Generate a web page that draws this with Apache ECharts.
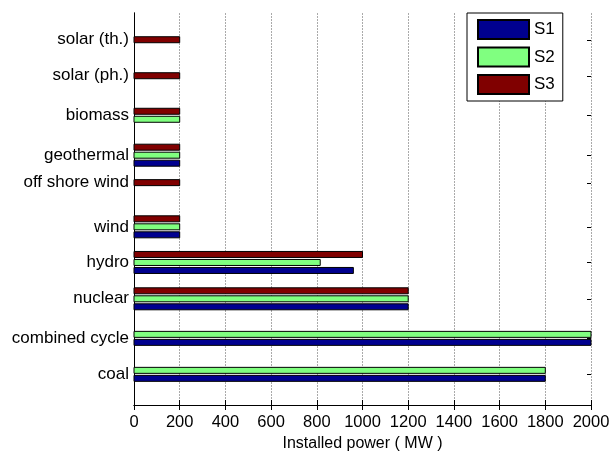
<!DOCTYPE html>
<html>
<head>
    <meta charset="utf-8">
    <title>Installed power</title>
    <script src="https://cdn.jsdelivr.net/npm/echarts@6/dist/echarts.min.js"></script>
    <style>
        html, body { margin: 0; padding: 0; background: #fff; }
        #main { width: 613px; height: 453px; }
    </style>
</head>
<body>
<div id="main"></div>
<script type="text/javascript">
    // categories, bottom to top, and where they sit on the y scale
    var categories = ['coal', 'combined cycle', 'nuclear', 'hydro', 'wind',
        'off shore wind', 'geothermal', 'biomass', 'solar (ph.)', 'solar (th.)'];
    var positions = [0.86, 1.87, 2.98, 4.0, 5.0, 6.24, 7.01, 8.13, 9.24, 10.25];

    var seriesNames = ['S1', 'S2', 'S3'];
    var s1 = [1800, 2000, 1200, 960, 200, 0, 200, 0, 0, 0];
    var s2 = [1800, 2000, 1200, 815, 200, 0, 200, 200, 0, 0];
    var s3 = [0, 0, 1200, 1000, 200, 200, 200, 200, 200, 200];
    var values = [s1, s2, s3];
    var colors = ['#00008f', '#80ff80', '#800000'];

    var FONT = 'Liberation Sans, Arial, Helvetica, sans-serif';
    var PITCH = 8;   // px between bars of one group
    var BAR = 6;     // bar thickness in px
    var XMAX = 2000;

    function makeSeries(si) {
        return {
            name: seriesNames[si],
            type: 'custom',
            z: 3,
            itemStyle: { color: colors[si], borderColor: '#000', borderWidth: 1 },
            encode: { x: 1, y: 0 },
            data: categories.map(function (c, i) { return [positions[i], values[si][i], i]; }),
            renderItem: function (params, api) {
                var i = api.value(2);
                var v = api.value(1);
                if (!v) return;
                // only non-zero bars are stacked around the category position
                var active = [];
                for (var k = 0; k < 3; k++) if (values[k][i]) active.push(k);
                var idx = active.indexOf(si);
                var off = (idx - (active.length - 1) / 2) * PITCH;
                var p0 = api.coord([0, positions[i]]);
                var p1 = api.coord([v, positions[i]]);
                var cy = p0[1] - off;
                return {
                    type: 'rect',
                    shape: { x: p0[0], y: cy - BAR / 2, width: p1[0] - p0[0], height: BAR },
                    style: api.style()
                };
            }
        };
    }

    // small inward ticks on the right-hand box edge
    var rightTicks = {
        type: 'custom',
        z: 2,
        silent: true,
        encode: { x: 1, y: 0 },
        data: positions.map(function (p) { return [p, XMAX]; }),
        renderItem: function (params, api) {
            var p = api.coord([XMAX, api.value(0)]);
            var y = Math.round(p[1]) + 0.5;
            return {
                type: 'line',
                shape: { x1: p[0], y1: y, x2: p[0] - 4, y2: y },
                style: { stroke: '#000', lineWidth: 1 }
            };
        }
    };

    var myChart = echarts.init(document.getElementById('main'));
    myChart.setOption({
        animation: false,
        textStyle: { fontFamily: FONT, color: '#000' },
        grid: { left: 134, right: 22, top: 13, bottom: 48, outerBoundsMode: 'none', containLabel: false },
        legend: {
            orient: 'vertical',
            left: 467, top: 13,
            icon: 'rect',
            itemWidth: 51, itemHeight: 19, itemGap: 6.5,
            padding: [6, 8, 6, 10],
            backgroundColor: '#fff',
            borderColor: '#000', borderWidth: 1,
            textStyle: { fontSize: 17, fontFamily: FONT, color: '#000' },
            data: seriesNames
        },
        xAxis: [{
            type: 'value', min: 0, max: XMAX, interval: 200,
            name: 'Installed power ( MW )', nameLocation: 'middle', nameGap: 31,
            nameTextStyle: { fontSize: 16, fontFamily: FONT, color: '#000' },
            axisLine: { show: true, lineStyle: { color: '#000' } },
            axisTick: { show: true, inside: true, length: 5, lineStyle: { color: '#000' } },
            axisLabel: { fontSize: 16.5, color: '#000', margin: 9, formatter: function (v) { return String(v); } },
            splitLine: { show: true, lineStyle: { color: '#aaa', type: [2, 1] } }
        }, {
            type: 'value', min: 0, max: XMAX, interval: 200, position: 'top',
            axisLine: { show: true, lineStyle: { color: '#000' } },
            axisTick: { show: true, inside: true, length: 5, lineStyle: { color: '#000' } },
            axisLabel: { show: false },
            splitLine: { show: false }
        }],
        yAxis: [{
            type: 'value', min: 0, max: 11,
            axisLine: { show: true, lineStyle: { color: '#000' } },
            axisTick: { show: false },
            axisLabel: {
                fontSize: 17, color: '#000', margin: 5,
                customValues: positions,
                formatter: function (v) { return categories[positions.indexOf(v)] || ''; }
            },
            splitLine: { show: false }
        }, {
            type: 'value', min: 0, max: 11, position: 'right',
            axisLine: { show: true, lineStyle: { color: '#000' } },
            axisTick: { show: false },
            axisLabel: { show: false },
            splitLine: { show: false }
        }],
        series: [rightTicks, makeSeries(0), makeSeries(1), makeSeries(2)]
    });
</script>
</body>
</html>
